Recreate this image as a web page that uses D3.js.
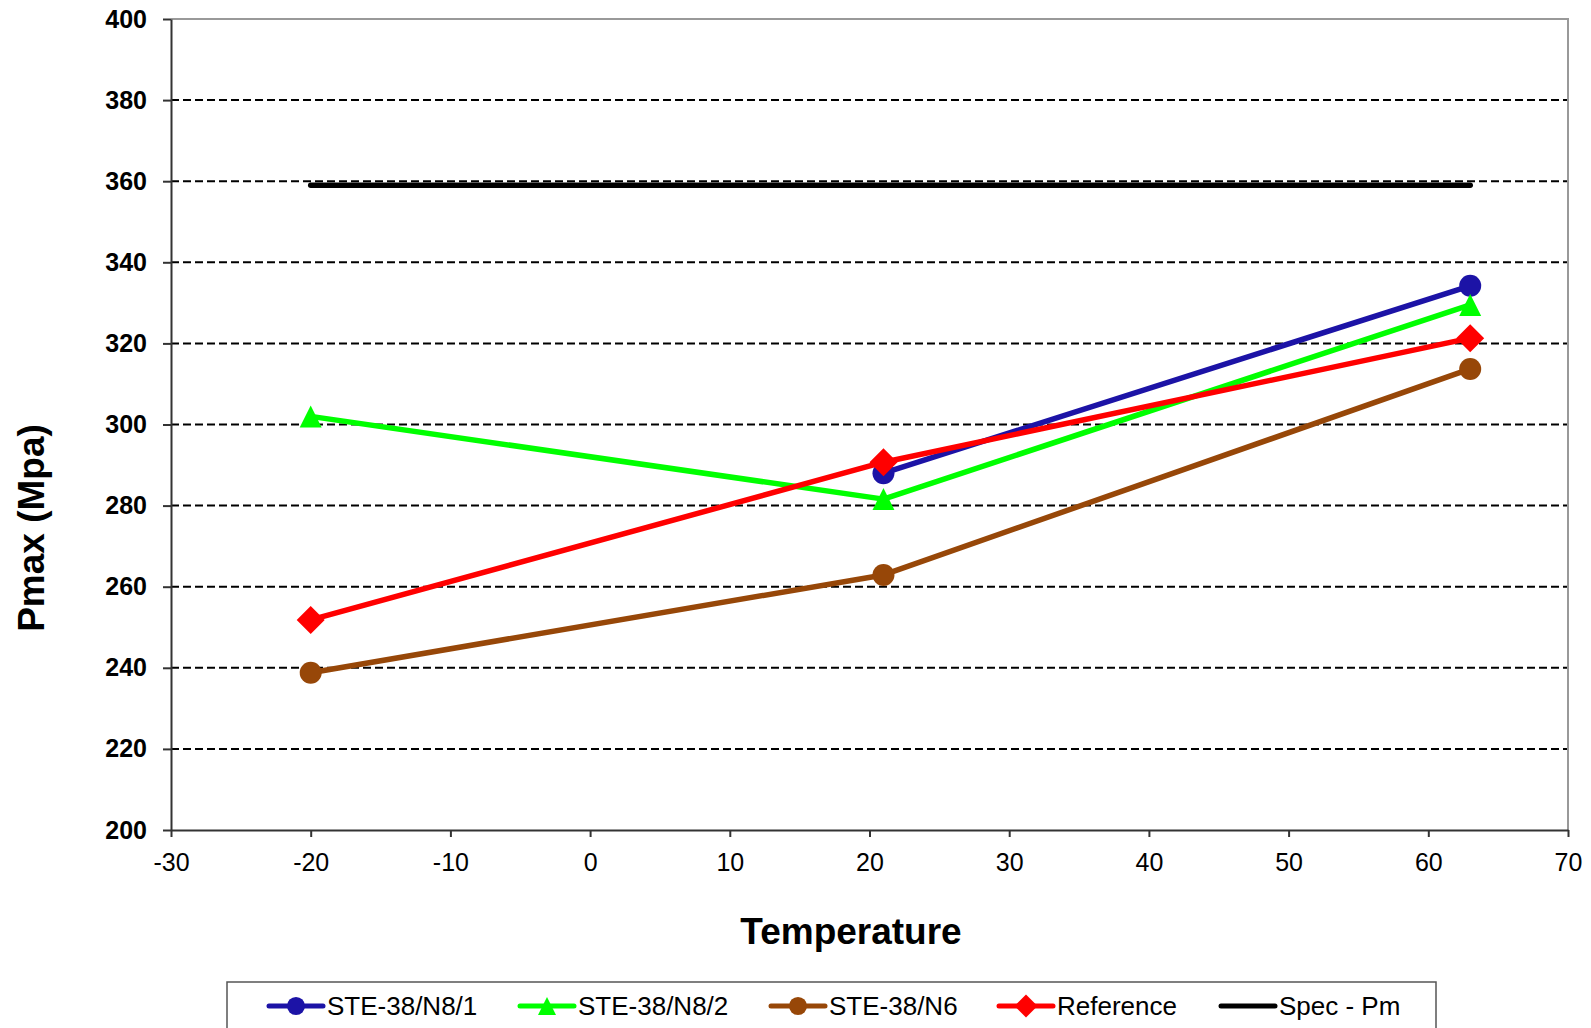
<!DOCTYPE html>
<meta charset="utf-8">
<style>
body{margin:0;background:#fff;font-family:Arial,"Liberation Sans",sans-serif;}
</style>
<body>
<div id="container"></div>
<script src="https://d3js.org/d3.v7.min.js"></script>
<script>

var width = 1591,
    height = 1028;

// data
var temps = [-20, 21, 63];
var names = ["STE-38/N8/1", "STE-38/N8/2", "STE-38/N6", "Reference", "Spec - Pm"];
var n81 = [null, 288, 334.2];
var n82 = [302, 281.6, 329.5];
var n6 = [238.8, 262.9, 313.7];
var reference = [251.8, 290.7, 321.3];
var specPm = [359, 359, 359];
var xTicks = [-30, -20, -10, 0, 10, 20, 30, 40, 50, 60, 70];
var yTicks = [200, 220, 240, 260, 280, 300, 320, 340, 360, 380, 400];

var colors = ["#1c13a6", "#00ff00", "#974708", "#ff0000", "#000000"];
var shapes = ["circle", "triangle", "circle", "diamond", "none"];

var series = [n81, n82, n6, reference, specPm].map(function(vals, i) {
  return {
    name: names[i], color: colors[i], shape: shapes[i],
    pts: temps.map(function(t, j) { return {x: t, y: vals[j]}; })
               .filter(function(p) { return p.y != null; })
  };
});

var pLeft = 171, pRight = 1568, pTop = 19, pBottom = 830;

var x = d3.scaleLinear().domain([-30, 70]).range([pLeft, pRight]);
var y = d3.scaleLinear().domain([200, 400]).range([pBottom, pTop]);

var svg = d3.select("#container").append("svg")
    .attr("width", width)
    .attr("height", height);

// grid
svg.append("g").selectAll("line")
    .data(yTicks.filter(function(d) { return d > 200 && d < 400; }))
  .enter().append("line")
    .attr("x1", pLeft).attr("x2", pRight)
    .attr("y1", function(d) { return y(d); })
    .attr("y2", function(d) { return y(d); })
    .style("stroke", "#000")
    .style("stroke-width", 2)
    .style("stroke-dasharray", "8,4");

// plot border top/right
svg.append("path")
    .attr("d", "M" + pLeft + "," + pTop + "H" + pRight + "V" + pBottom)
    .style("fill", "none")
    .style("stroke", "#999")
    .style("stroke-width", 2);

// axes
var xAxis = d3.axisBottom(x).tickValues(xTicks).tickFormat(String).tickSize(7).tickSizeOuter(0);
var yAxis = d3.axisLeft(y).tickValues(yTicks).tickFormat(String).tickSize(8).tickSizeOuter(0);

var gx = svg.append("g").attr("transform", "translate(0," + pBottom + ")").call(xAxis);
gx.selectAll("text")
    .style("font-size", "25px")
    .style("font-family", "Arial, 'Liberation Sans', sans-serif")
    .style("fill", "#000")
    .attr("y", 23);

var gy = svg.append("g").attr("transform", "translate(" + pLeft + ",0)").call(yAxis);
gy.selectAll("text")
    .style("font-size", "25px")
    .style("font-weight", "bold")
    .style("font-family", "Arial, 'Liberation Sans', sans-serif")
    .style("fill", "#000")
    .attr("x", -24);

svg.selectAll(".domain, .tick line").style("stroke", "#333").style("stroke-width", 2);

// axis titles
svg.append("text")
    .attr("x", 851).attr("y", 931)
    .attr("text-anchor", "middle")
    .attr("dominant-baseline", "central")
    .style("font-size", "37px").style("font-weight", "bold")
    .text("Temperature");

svg.append("text")
    .attr("transform", "translate(31," + 528 + ") rotate(-90)")
    .attr("text-anchor", "middle")
    .attr("dominant-baseline", "central")
    .style("font-size", "37px").style("font-weight", "bold")
    .text("Pmax (Mpa)");

function marker(g, shape, color, cx, cy, s) {
  if (shape == "circle") {
    g.append("circle").attr("cx", cx).attr("cy", cy).attr("r", 11 * s).style("fill", color);
  } else if (shape == "triangle") {
    var h = 11 * s;
    g.append("path")
      .attr("d", "M" + cx + "," + (cy - h) + "L" + (cx + h) + "," + (cy + h) + "L" + (cx - h) + "," + (cy + h) + "Z")
      .style("fill", color);
  } else if (shape == "diamond") {
    var r = 14 * s;
    g.append("path")
      .attr("d", "M" + cx + "," + (cy - r) + "L" + (cx + r) + "," + cy + "L" + cx + "," + (cy + r) + "L" + (cx - r) + "," + cy + "Z")
      .style("fill", color);
  }
}

var line = d3.line().x(function(d) { return x(d.x); }).y(function(d) { return y(d.y); });

// draw lines in order, spec first so it sits behind
[4, 0, 1, 2, 3].forEach(function(i) {
  var s = series[i];
  var g = svg.append("g");
  g.append("path")
    .datum(s.pts)
    .attr("d", line)
    .style("fill", "none")
    .style("stroke", s.color)
    .style("stroke-width", 5.5)
    .style("stroke-linecap", "round")
    .style("stroke-linejoin", "round");
  s.pts.forEach(function(p) {
    marker(g, s.shape, s.color, x(p.x), y(p.y), 1);
  });
});

// legend
var legend = svg.append("g");
legend.append("rect")
    .attr("x", 227).attr("y", 982)
    .attr("width", 1209).attr("height", 60)
    .style("fill", "#fff")
    .style("stroke", "#555")
    .style("stroke-width", 1.5);

var legX = [269, 520, 771, 999, 1221];
series.forEach(function(s, i) {
  var lx = legX[i], ly = 1006;
  legend.append("line")
    .attr("x1", lx).attr("x2", lx + 54)
    .attr("y1", ly).attr("y2", ly)
    .style("stroke", s.color)
    .style("stroke-width", 5)
    .style("stroke-linecap", "round");
  marker(legend, s.shape, s.color, lx + 27, ly, 0.82);
  legend.append("text")
    .attr("x", lx + 58).attr("y", ly)
    .attr("dominant-baseline", "central")
    .style("font-size", "26px")
    .text(s.name);
});

</script>
</body>
</html>
